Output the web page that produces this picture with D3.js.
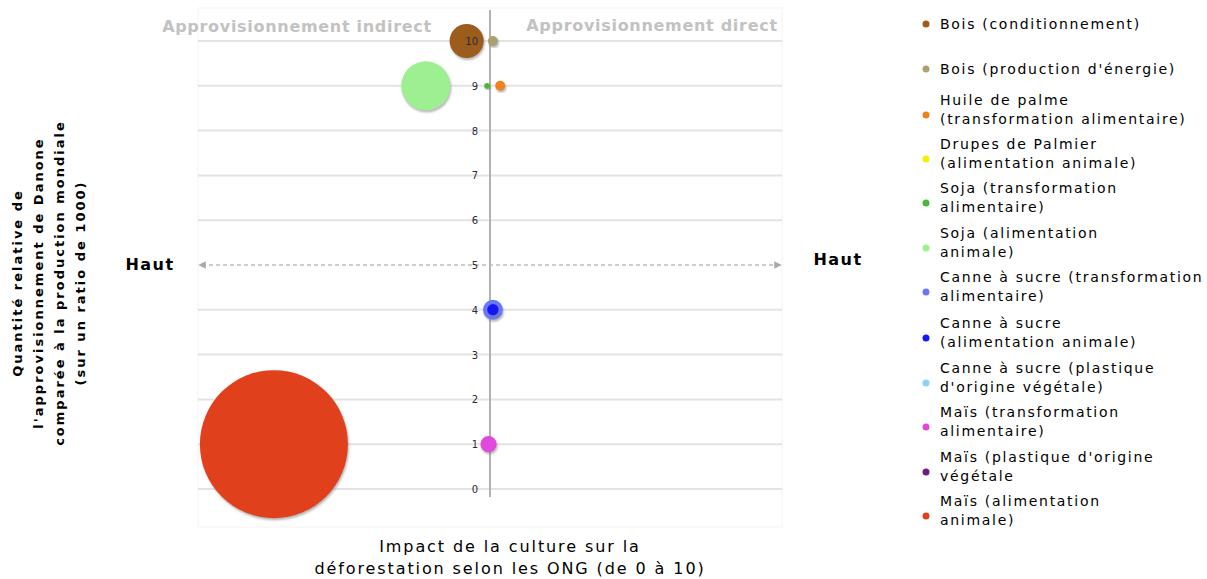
<!DOCTYPE html>
<html>
<head>
<meta charset="utf-8">
<script src="https://cdn.jsdelivr.net/npm/d3@7"></script>
<style>
  body { margin: 0; background: #fff; }
  text { font-family: "DejaVu Sans", sans-serif; }
</style>
</head>
<body>
<div id="chart-container"></div>
<script>
// series, in legend order
const series = [
  "Bois (conditionnement)",
  "Bois (production d'énergie)",
  "Huile de palme (transformation alimentaire)",
  "Drupes de Palmier (alimentation animale)",
  "Soja (transformation alimentaire)",
  "Soja (alimentation animale)",
  "Canne à sucre (transformation alimentaire)",
  "Canne à sucre (alimentation animale)",
  "Canne à sucre (plastique d'origine végétale)",
  "Maïs (transformation alimentaire)",
  "Maïs (plastique d'origine végétale",
  "Maïs (alimentation animale)"
];
// legend labels split on lines like the original
const legendLines = [
  ["Bois (conditionnement)"],
  ["Bois (production d'énergie)"],
  ["Huile de palme", "(transformation alimentaire)"],
  ["Drupes de Palmier", "(alimentation animale)"],
  ["Soja (transformation", "alimentaire)"],
  ["Soja (alimentation", "animale)"],
  ["Canne à sucre (transformation", "alimentaire)"],
  ["Canne à sucre", "(alimentation animale)"],
  ["Canne à sucre (plastique", "d'origine végétale)"],
  ["Maïs (transformation", "alimentaire)"],
  ["Maïs (plastique d'origine", "végétale"],
  ["Maïs (alimentation", "animale)"]
];
const colors = ["#9c5c1c", "#aca070", "#f0821e", "#f4f000", "#4cb83a", "#9eef92",
                "#6878f8", "#1818f0", "#8cd2f4", "#e048dc", "#6c1c84", "#e0401a"];
// x: impact (negative = indirect), y: relative quantity, size: bubble value
const xValues = [-0.8, 0.1, 0.35, 0, -0.1, -2.2, 0.1, 0.1, 0, -0.05, 0, -7.4];
const yValues = [10, 10, 9, 0, 9, 9, 4, 4, 0, 1, 0, 1];
const sizeValues = [5.3, 0.45, 0.45, 0, 0.15, 11, 1.8, 0.6, 0, 1.2, 0, 100];
const yTicks = [0, 1, 2, 3, 4, 5, 6, 7, 8, 9, 10];

const data = series.map((s, i) => ({
  name: s, color: colors[i], x: xValues[i], y: yValues[i], size: sizeValues[i]
}));

const width = 1207, height = 579;
const plot = { left: 198, right: 782, top: 8, bottom: 527 };

const svg = d3.select('#chart-container')
  .append('svg')
  .attr('width', width)
  .attr('height', height);

const defs = svg.append('defs');
const shadow = defs.append('filter').attr('id', 'shadow')
  .attr('x', '-20%').attr('y', '-20%').attr('width', '140%').attr('height', '140%');
shadow.append('feDropShadow')
  .attr('dx', 1).attr('dy', 2).attr('stdDeviation', 1.2)
  .attr('flood-color', '#777').attr('flood-opacity', 0.55);

['start', 'end'].forEach(k => {
  defs.append('marker')
    .attr('id', 'arrow-' + k)
    .attr('viewBox', '0 0 10 10')
    .attr('refX', 5).attr('refY', 5)
    .attr('markerWidth', 5).attr('markerHeight', 5)
    .attr('orient', k === 'end' ? 'auto' : 'auto-start-reverse')
    .append('path')
    .attr('d', 'M0,0L10,5L0,10z')
    .attr('fill', '#aaa');
});

const x = d3.scaleLinear().domain([-10, 10]).range([plot.left, plot.right]);
const y = d3.scaleLinear().domain([0, 10]).range([489, 41]);
const r = d3.scaleSqrt().domain([0, 100]).range([0, 74]);

// plot background
svg.append('rect')
  .attr('x', plot.left).attr('y', plot.top)
  .attr('width', plot.right - plot.left).attr('height', plot.bottom - plot.top)
  .attr('fill', '#fff').attr('stroke', '#f3f3f3');

// gridlines
svg.append('g')
  .selectAll('line')
  .data(yTicks.filter(d => d !== 5))
  .join('line')
    .attr('x1', plot.left).attr('x2', plot.right)
    .attr('y1', d => y(d)).attr('y2', d => y(d))
    .attr('stroke', '#e3e3e3').attr('stroke-width', 2);

// dashed middle line with arrows
svg.append('line')
  .attr('x1', plot.left + 4).attr('x2', plot.right - 4)
  .attr('y1', y(5)).attr('y2', y(5))
  .attr('stroke', '#bdbdbd').attr('stroke-width', 1.5)
  .attr('stroke-dasharray', '4,3')
  .attr('marker-start', 'url(#arrow-start)')
  .attr('marker-end', 'url(#arrow-end)');

// vertical axis line
svg.append('line')
  .attr('x1', x(0)).attr('x2', x(0))
  .attr('y1', plot.top + 2).attr('y2', y(0) + 8)
  .attr('stroke', '#b2b2b2').attr('stroke-width', 2);

// bubbles, largest first
svg.append('g')
  .selectAll('circle')
  .data(data.filter(d => d.size > 0).sort((a, b) => b.size - a.size))
  .join('circle')
    .attr('cx', d => x(d.x))
    .attr('cy', d => y(d.y))
    .attr('r', d => r(d.size))
    .attr('fill', d => d.color)
    .attr('filter', 'url(#shadow)');

// y tick labels next to the axis
svg.append('g')
  .selectAll('text')
  .data(yTicks)
  .join('text')
    .attr('x', x(0) - 12)
    .attr('y', d => y(d) + 4)
    .attr('text-anchor', 'end')
    .attr('font-size', 10)
    .attr('fill', '#2a2a3a')
    .text(d => d);

// side titles
svg.append('text')
  .attr('x', 297).attr('y', 32)
  .attr('text-anchor', 'middle')
  .attr('font-size', 16).attr('font-weight', 'bold')
  .attr('letter-spacing', 0.7)
  .attr('fill', '#c2c2c2')
  .text('Approvisionnement indirect');
svg.append('text')
  .attr('x', 652).attr('y', 31)
  .attr('text-anchor', 'middle')
  .attr('font-size', 16).attr('font-weight', 'bold')
  .attr('letter-spacing', 0.7)
  .attr('fill', '#c2c2c2')
  .text('Approvisionnement direct');

svg.append('text')
  .attr('x', 150).attr('y', 270)
  .attr('text-anchor', 'middle')
  .attr('font-size', 16).attr('font-weight', 'bold')
  .attr('letter-spacing', 1.5)
  .text('Haut');
svg.append('text')
  .attr('x', 838).attr('y', 265)
  .attr('text-anchor', 'middle')
  .attr('font-size', 16).attr('font-weight', 'bold')
  .attr('letter-spacing', 1.5)
  .text('Haut');

// y axis title
const yTitle = ["Quantité relative de", "l'approvisionnement de Danone",
                "comparée à la production mondiale", "(sur un ratio de 1000)"];
svg.append('g')
  .attr('transform', 'translate(0,283) rotate(-90)')
  .selectAll('text')
  .data(yTitle)
  .join('text')
    .attr('x', 0)
    .attr('y', (d, i) => 22 + i * 21)
    .attr('text-anchor', 'middle')
    .attr('font-size', 13).attr('font-weight', 'bold')
    .attr('letter-spacing', 2)
    .text(d => d);

// x axis title
const xTitle = ["Impact de la culture sur la", "déforestation selon les ONG (de 0 à 10)"];
svg.append('g')
  .selectAll('text')
  .data(xTitle)
  .join('text')
    .attr('x', 510)
    .attr('y', (d, i) => 552 + i * 22)
    .attr('text-anchor', 'middle')
    .attr('font-size', 16)
    .attr('letter-spacing', 1.9)
    .text(d => d);

// legend
const legendY = [24, 69, 115, 159, 203, 248, 292, 338, 383, 427, 472, 516];
const legend = svg.append('g')
  .selectAll('g')
  .data(data)
  .join('g')
    .attr('transform', (d, i) => `translate(926,${legendY[i]})`);
legend.append('circle')
  .attr('r', 3.5)
  .attr('fill', d => d.color);
legend.append('text')
  .attr('font-size', 14)
  .attr('letter-spacing', 1.7)
  .selectAll('tspan')
  .data((d, i) => legendLines[i].map((t, j, a) => ({ t, dy: a.length === 1 ? 5 : (j === 0 ? -10 : 19) })))
  .join('tspan')
    .attr('x', 14)
    .attr('dy', d => d.dy)
    .text(d => d.t);
</script>
</body>
</html>
